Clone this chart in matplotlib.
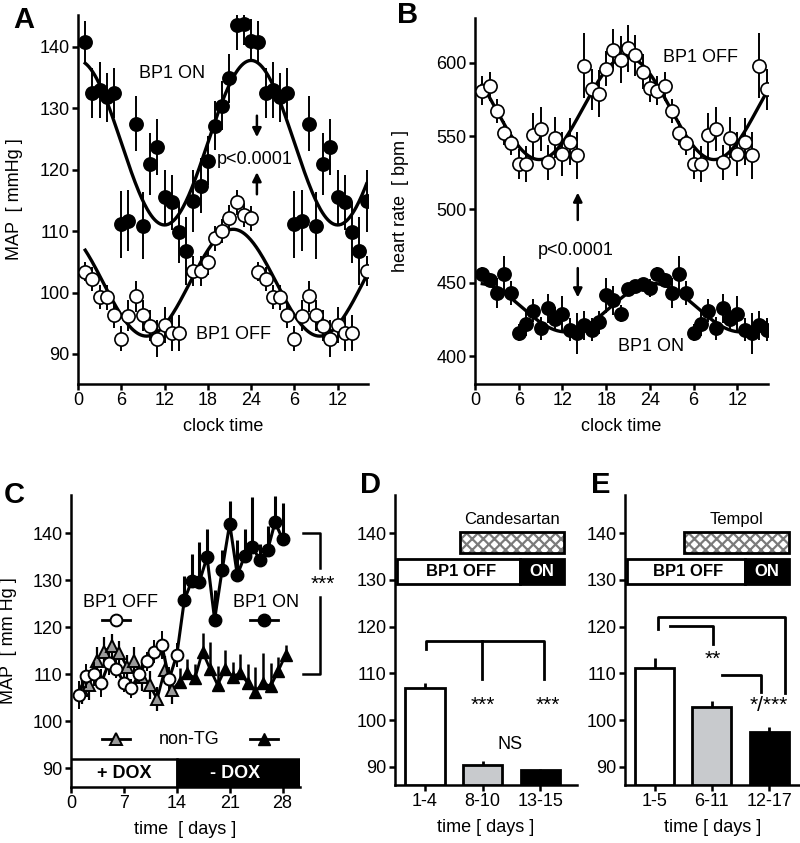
import numpy as np
import matplotlib
matplotlib.use('Agg')
import matplotlib.pyplot as plt
from matplotlib.patches import Rectangle

plt.rcParams['font.family'] = ['Liberation Sans', 'DejaVu Sans']
plt.rcParams['font.size'] = 13
plt.rcParams['hatch.linewidth'] = 1.6

# ---------------- data ----------------
# A / B : hourly means (clock hours 1..24), double plotted
hours = np.arange(1, 25)
a_on = [140.8, 132.5, 133.0, 131.8, 132.5, 111.1, 111.7, 127.5, 110.9, 120.9, 123.7, 115.5,
        114.7, 109.8, 106.8, 114.9, 117.4, 121.5, 127.2, 130.4, 134.9, 143.5, 143.8, 141.0]
a_on_sem = [3.5, 4.0, 4.5, 4.0, 4.0, 5.5, 5.0, 4.5, 5.5, 5.0, 4.5, 4.5,
            4.5, 5.0, 5.5, 5.0, 4.5, 4.0, 4.0, 4.0, 4.0, 4.0, 3.5, 3.5]
a_off = [103.4, 102.2, 99.3, 99.2, 96.3, 92.5, 96.2, 99.4, 96.3, 94.6, 92.5, 94.7,
         93.4, 93.4, np.nan, 103.5, 103.5, 104.9, 108.8, 110.0, 112.2, 114.7, 112.6, 112.1]
a_off_sem = [1.5, 2.0, 2.0, 2.0, 2.0, 2.0, 2.5, 2.5, 2.5, 2.5, 3.0, 3.0,
             3.0, 3.0, 3.0, 2.5, 2.5, 2.0, 2.0, 2.0, 2.0, 2.0, 2.0, 2.0]
a_on_fit = (124.4, 13.4, 24.0)    # mesor, amplitude, acrophase [h]
a_off_fit = (101.6, 8.7, 21.5)

b_off = [581, 584, 567, 552, 545, 531, 531, 551, 555, 532, 549, 538,
         546, 537, 598, 582, 579, 596, 609, 602, 610, 605, 594, 583]
b_off_sem = [10, 10, 8, 8, 8, 10, 12, 15, 15, 12, 14, 15,
             16, 16, 22, 14, 16, 12, 14, 16, 16, 14, 12, 10]
b_on = [456, 452, 443, 456, 443, 416, 422, 431, 419, 432.5, 425.5, 429,
        418, 415.5, 421, 418, 423, 441.5, 438, 429, 446, 448, 449.5, 446.5]
b_on_sem = [5, 5, 10, 12, 8, 6, 8, 8, 8, 10, 8, 12,
            8, 14, 10, 8, 8, 12, 10, 6, 4, 4, 4, 6]
b_off_fit = (569.0, 35.0, 20.8)
b_on_fit = (433.0, 16.5, 0.5)

clock_ticks = [0, 6, 12, 18, 24, 30, 36]
clock_labels = ['0', '6', '12', '18', '24', '6', '12']

# C : daily MAP
c_off_days = np.arange(1, 15)
c_off = [105.5, 109.6, 110.0, 108.2, 112.3, 111.1, 108.2, 107.0, 110.0, 112.7, 114.8, 116.2, 109.0, 114.1]
c_off_sem = [3, 2.5, 2.5, 3, 2.5, 2, 2, 2, 2, 2, 2.5, 3, 2.5, 2.5]
c_on_days = np.arange(15, 29)
c_on = [125.8, 129.9, 129.7, 134.9, 121.6, 132.2, 142.0, 131.1, 135.2, 137.1, 134.2, 136.3, 142.3, 138.7]
c_on_sem = [5, 5.7, 8.5, 6, 6.4, 4.3, 4.8, 7.4, 5.7, 10.5, 3.5, 5.3, 5.5, 7.8]
c_ntg_dox_days = np.arange(1, 14)
c_ntg_dox = [106.7, 107.6, 112.8, 114.8, 116.0, 114.6, 111.6, 112.7, 109.5, 107.7, 104.7, 110.9, 106.7]
c_ntg_dox_sem = [3, 3, 3, 3, 2.5, 2.5, 2.5, 3, 3, 3, 2.5, 3, 3]
c_ntg_days = np.arange(14, 29)
c_ntg = [108.4, 110.2, 109.1, 114.8, 111.1, 107.7, 111.1, 109.5, 110.2, 108.1, 106.3, 108.1, 107.4, 110.6, 114.1]
c_ntg_sem = [3, 3, 3, 4, 5.8, 4, 4, 3, 4, 4, 5.3, 6.4, 5, 3, 2]

# D / E : bar charts
d_labels = ['1-4', '8-10', '13-15']
d_means = [106.8, 90.4, 89.3]
d_sem = [1.2, 0.9, 0.15]
e_labels = ['1-5', '6-11', '12-17']
e_means = [111.1, 102.8, 97.5]
e_sem = [2.1, 1.2, 1.1]
bar_colors = ['white', '#c8cacd', 'black']

# ---------------- helpers ----------------
W, H = 800, 843
fig = plt.figure(figsize=(W / 100, H / 100), dpi=100)


def add_axes(l, t, r, b):
    return fig.add_axes([l / W, 1 - b / H, (r - l) / W, (b - t) / H])


def prism(ax):
    for s in ['top', 'right']:
        ax.spines[s].set_visible(False)
    for s in ['left', 'bottom']:
        ax.spines[s].set_linewidth(1.8)
    ax.tick_params(width=1.8, length=4, labelsize=13, pad=2)


def dbl(v):
    v = np.asarray(v, float)
    return np.concatenate([v, v[:16]])


x_dbl = np.concatenate([hours, hours[:16] + 24])
t_fit = np.linspace(1, 40, 300)


def cosinor(p):
    mesor, amp, acro = p
    return mesor + amp * np.cos(2 * np.pi * (t_fit - acro) / 24)


def hourly(ax, y, sem, filled, fit):
    ax.errorbar(x_dbl, dbl(y), yerr=dbl(sem), fmt='none', ecolor='k', elinewidth=1.4, zorder=2)
    ax.plot(t_fit, cosinor(fit), color='k', lw=2.4, zorder=3)
    ax.plot(x_dbl, dbl(y), 'o', ms=9.5, mfc='k' if filled else 'white', mec='k', mew=1.2, zorder=4)


def arrow(ax, x, y0, y1):
    ax.annotate('', xy=(x, y1), xytext=(x, y0),
                arrowprops=dict(arrowstyle='-|>', color='k', lw=1.8, mutation_scale=13,
                                shrinkA=0, shrinkB=0))


# ---------------- A ----------------
axA = add_axes(78, 15, 368, 384)
prism(axA)
hourly(axA, a_on, a_on_sem, True, a_on_fit)
hourly(axA, a_off, a_off_sem, False, a_off_fit)
axA.set_xlim(0, 40.2)
axA.set_ylim(85.1, 145.2)
axA.set_xticks(clock_ticks, clock_labels)
axA.set_yticks(range(90, 141, 10))
axA.set_xlabel('clock time', fontsize=13, labelpad=6)
axA.set_ylabel('MAP  [ mmHg ]', fontsize=13)
axA.yaxis.set_label_coords(-0.19, 0.5)
axA.text(13.0, 135.6, 'BP1 ON', ha='center', va='center', fontsize=13)
axA.text(24.5, 121.7, 'p<0.0001', ha='center', va='center', fontsize=13)
axA.text(21.6, 93.2, 'BP1 OFF', ha='center', va='center', fontsize=13)
arrow(axA, 24.8, 128.8, 125.3)
arrow(axA, 24.8, 116.0, 119.6)

# ---------------- B ----------------
axB = add_axes(475, 18, 768, 384)
prism(axB)
hourly(axB, b_off, b_off_sem, False, b_off_fit)
hourly(axB, b_on, b_on_sem, True, b_on_fit)
axB.set_xlim(0, 40.2)
axB.set_ylim(381, 630.5)
axB.set_xticks(clock_ticks, clock_labels)
axB.set_yticks(range(400, 601, 50))
axB.set_xlabel('clock time', fontsize=13, labelpad=6)
axB.set_ylabel('heart rate  [ bpm ]', fontsize=13)
axB.yaxis.set_label_coords(-0.225, 0.5)
axB.text(31.0, 603.9, 'BP1 OFF', ha='center', va='center', fontsize=13)
axB.text(13.8, 472.3, 'p<0.0001', ha='center', va='center', fontsize=13)
axB.text(24.2, 406.9, 'BP1 ON', ha='center', va='center', fontsize=13)
arrow(axB, 14.1, 492.8, 511.5)
arrow(axB, 14.1, 460.0, 440.0)

# ---------------- C ----------------
axC = add_axes(71, 495, 300, 787)
prism(axC)
c_y0 = 86.0
axC.set_xlim(0, 30.3)
axC.set_ylim(c_y0, 148.1)
dodge = 0.4
tri_x = np.concatenate([c_ntg_dox_days, c_ntg_days]) + dodge
tri_y = np.concatenate([c_ntg_dox, c_ntg])
axC.plot(tri_x, tri_y, color='k', lw=2, zorder=2)
axC.errorbar(c_ntg_dox_days + dodge, c_ntg_dox, yerr=c_ntg_dox_sem, fmt='none', ecolor='k', elinewidth=1.6, zorder=2)
axC.errorbar(c_ntg_days + dodge, c_ntg, yerr=[np.zeros(len(c_ntg)), c_ntg_sem], fmt='none', ecolor='k', elinewidth=1.8, zorder=2)
axC.plot(c_ntg_dox_days + dodge, c_ntg_dox, '^', ms=9, mfc='#9a9a9a', mec='k', mew=1.4, zorder=3)
axC.plot(c_ntg_days + dodge, c_ntg, '^', ms=9, mfc='k', mec='k', zorder=3)

circ_x = np.concatenate([c_off_days, c_on_days])
circ_y = np.concatenate([c_off, c_on])
axC.plot(circ_x, circ_y, color='k', lw=2.2, zorder=4)
axC.errorbar(c_off_days, c_off, yerr=c_off_sem, fmt='none', ecolor='k', elinewidth=1.4, zorder=4)
axC.errorbar(c_on_days, c_on, yerr=[np.zeros(len(c_on)), c_on_sem], fmt='none', ecolor='k', elinewidth=2.2, zorder=4)
axC.plot(c_off_days, c_off, 'o', ms=8.5, mfc='white', mec='k', mew=1.4, zorder=5)
axC.plot(c_on_days, c_on, 'o', ms=9, mfc='k', mec='k', zorder=5)

axC.add_patch(Rectangle((0, c_y0), 14, 5.9, fc='white', ec='k', lw=1.8, zorder=6))
axC.add_patch(Rectangle((14, c_y0), 16.3, 5.9, fc='k', ec='k', lw=1.8, zorder=6))
axC.text(7.1, c_y0 + 2.95, '+ DOX', ha='center', va='center', fontsize=13, fontweight='bold', zorder=7)
axC.text(21.7, c_y0 + 2.95, '- DOX', ha='center', va='center', fontsize=13, fontweight='bold', color='white', zorder=7)

axC.text(6.5, 125.2, 'BP1 OFF', ha='center', va='center', fontsize=13)
axC.text(25.8, 125.2, 'BP1 ON', ha='center', va='center', fontsize=13)
axC.text(15.7, 96.2, 'non-TG', ha='center', va='center', fontsize=13)
axC.plot([4.1, 7.8], [121.5, 121.5], color='k', lw=2)
axC.plot([6.0], [121.5], 'o', ms=8.5, mfc='white', mec='k', mew=1.4)
axC.plot([23.7, 27.4], [121.5, 121.5], color='k', lw=2)
axC.plot([25.5], [121.5], 'o', ms=9, mfc='k', mec='k')
axC.plot([4.1, 7.8], [96.2, 96.2], color='k', lw=2)
axC.plot([6.0], [96.2], '^', ms=9, mfc='#9a9a9a', mec='k', mew=1.4)
axC.plot([23.7, 27.4], [96.2, 96.2], color='k', lw=2)
axC.plot([25.5], [96.2], '^', ms=9, mfc='k', mec='k')

# significance bracket outside the axes
axC.plot([30.7, 32.9, 32.9], [140, 140, 132.5], color='k', lw=1.8, clip_on=False)
axC.plot([32.9, 32.9, 30.7], [126.5, 110, 110], color='k', lw=1.8, clip_on=False)
axC.text(33.3, 129.2, '***', ha='center', va='center', fontsize=15, clip_on=False)

axC.set_xticks([0, 7, 14, 21, 28])
axC.set_yticks(range(90, 141, 10))
axC.set_xlabel('time  [ days ]', fontsize=13, labelpad=6)
axC.set_ylabel('MAP  [ mm Hg ]', fontsize=13)
axC.yaxis.set_label_coords(-0.235, 0.5)


# ---------------- D / E ----------------
def bar_panel(ax, labels, means, sem, drug, drug_x, off_end, box_end):
    prism(ax)
    y0 = 86.1
    x = np.arange(len(labels))
    ax.set_ylim(y0, 148.2)
    ax.bar(x, np.array(means) - y0, bottom=y0, width=0.68, color=bar_colors,
           edgecolor='k', linewidth=2, zorder=3)
    ax.errorbar(x, means, yerr=[np.zeros(len(sem)), sem], fmt='none', ecolor='k', elinewidth=2, zorder=2)
    ax.set_xticks(x, labels)
    ax.set_yticks(range(90, 141, 10))
    ax.set_xlabel('time [ days ]', fontsize=13, labelpad=6)
    # treatment / transgene boxes
    ax.add_patch(Rectangle((drug_x, 135.7), box_end - drug_x, 4.6, fc='white', ec='#7a7a7a',
                           hatch='xxx', lw=0))
    ax.add_patch(Rectangle((drug_x, 135.7), box_end - drug_x, 4.6, fill=False, ec='k', lw=2))
    ax.text((drug_x + box_end) / 2, 142.9, drug, ha='center', va='center', fontsize=12)
    ax.add_patch(Rectangle((-0.49, 129.2), off_end + 0.49, 5.4, fc='white', ec='k', lw=2, clip_on=False))
    ax.add_patch(Rectangle((off_end, 129.2), box_end - off_end, 5.4, fc='k', ec='k', lw=2))
    ax.text((off_end - 0.49) / 2 + 0.05, 131.9, 'BP1 OFF', ha='center', va='center', fontsize=12, fontweight='bold')
    ax.text((off_end + box_end) / 2, 131.9, 'ON', ha='center', va='center', fontsize=12,
            fontweight='bold', color='white')


axD = add_axes(395, 495, 577, 785)
bar_panel(axD, d_labels, d_means, d_sem, 'Candesartan', 0.6, 1.65, 2.42)
axD.set_xlim(-0.52, 2.64)
axD.plot([0.02, 0.02, 2.07, 2.07], [115.3, 117.0, 117.0, 108.7], color='k', lw=2)
axD.plot([0.99, 0.99], [117.0, 108.7], color='k', lw=2)
axD.text(1.01, 103.2, '***', ha='center', va='center', fontsize=15)
axD.text(2.13, 103.2, '***', ha='center', va='center', fontsize=15)
axD.text(1.48, 94.7, 'NS', ha='center', va='center', fontsize=13)

axE = add_axes(625, 495, 800, 785)
bar_panel(axE, e_labels, e_means, e_sem, 'Tempol', 0.52, 1.57, 2.34)
axE.set_xlim(-0.52, 2.54)
axE.plot([0.05, 0.05, 2.27, 2.27], [119.4, 122.1, 122.1, 105.7], color='k', lw=2)
axE.plot([0.27, 1.01, 1.01], [120.2, 120.2, 116.3], color='k', lw=2)
axE.plot([1.17, 1.85, 1.85], [109.6, 109.6, 106.1], color='k', lw=2)
axE.text(1.02, 113.0, '**', ha='center', va='center', fontsize=15)
axE.text(2.0, 103.2, '*/***', ha='center', va='center', fontsize=15)

# ---------------- panel letters ----------------
for letter, (px, py) in {'A': (24, 20), 'B': (408, 15), 'C': (14, 495),
                         'D': (370, 485), 'E': (601, 485)}.items():
    fig.text(px / W, 1 - py / H, letter, ha='center', va='center', fontsize=21, fontweight='bold')

fig.savefig('out.png', dpi=100)
